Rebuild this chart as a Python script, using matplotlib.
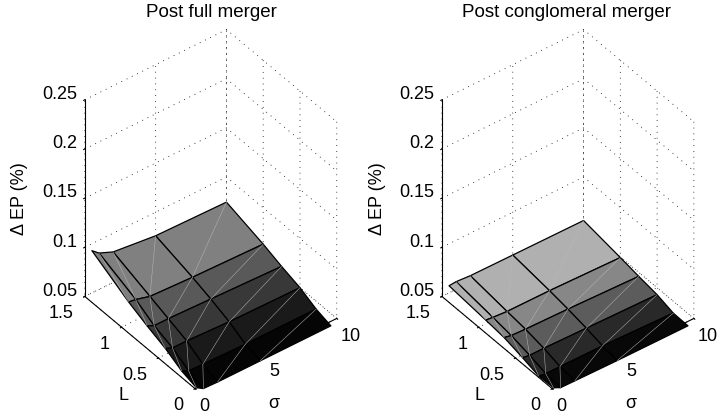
import matplotlib
matplotlib.use('Agg')
import matplotlib.pyplot as plt
import numpy as np

plt.rcParams['font.family'] = ['Liberation Sans', 'DejaVu Sans']
plt.rcParams['font.size'] = 13
plt.rcParams['grid.linestyle'] = (0, (1, 6))
plt.rcParams['grid.linewidth'] = 0.6
plt.rcParams['grid.color'] = 'black'

sigma = [0.5, 1, 2, 5, 10]
L = [0.08, 0.28, 0.5, 0.75, 1, 1.5]

# rows follow L, columns follow sigma
full_ep = [
    [0.0425, 0.0380, 0.0375, 0.0375, 0.0375],
    [0.0470, 0.0434, 0.0430, 0.0420, 0.0420],
    [0.0560, 0.0530, 0.0530, 0.0510, 0.0500],
    [0.0635, 0.0600, 0.0600, 0.0585, 0.0560],
    [0.0720, 0.0710, 0.0670, 0.0650, 0.0630],
    [0.0930, 0.0870, 0.0810, 0.0760, 0.0745],
]
cong_ep = [
    [0.0424, 0.0389, 0.0386, 0.0379, 0.0375],
    [0.0418, 0.0406, 0.0406, 0.0403, 0.0379],
    [0.0467, 0.0455, 0.0455, 0.0445, 0.0429],
    [0.0515, 0.0500, 0.0493, 0.0483, 0.0459],
    [0.0536, 0.0528, 0.0517, 0.0514, 0.0494],
    [0.0573, 0.0579, 0.0568, 0.0564, 0.0558],
]
full_grey = [0.02, 0.10, 0.22, 0.35, 0.50]
cong_grey = [0.03, 0.16, 0.36, 0.53, 0.69]

z_ticks = [0.05, 0.1, 0.15, 0.2, 0.25]
z_labels = ['0.05', '0.1', '0.15', '0.2', '0.25']
l_ticks = [0, 0.5, 1, 1.5]
l_labels = ['0', '0.5', '1', '1.5']
s_ticks = [0, 5, 10]
s_labels = ['0', '5', '10']

W, H = 720, 416


def px_text(fig, x, y, s, **kw):
    return fig.text(x / W, 1 - y / H, s, ha='center', va='center', **kw)


def draw_panel(fig, rect, title, title_x, values, greys):
    ax = fig.add_axes(rect, projection='3d', proj_type='ortho', computed_zorder=False)
    ax.view_init(elev=40.1, azim=232.4)
    ax.set_box_aspect((178, 180, 256), zoom=0.975)
    ax.patch.set_alpha(0)

    X, Y = np.meshgrid(sigma, L)
    Z = np.array(values)
    colors = np.empty((Z.shape[0] - 1, Z.shape[1] - 1, 3))
    for i, g in enumerate(greys):
        colors[i, :, :] = g
    ax.plot_surface(X, Y, Z, facecolors=colors, shade=False, rstride=1, cstride=1,
                    edgecolor='black', linewidth=0.9, zorder=2)
    # thin light seams across each face
    for i in range(Z.shape[0] - 1):
        for j in range(Z.shape[1] - 1):
            ax.plot([X[i, j], X[i + 1, j + 1]], [Y[i, j], Y[i + 1, j + 1]],
                    [Z[i, j], Z[i + 1, j + 1]], color='#b8b8b8', lw=0.35, zorder=3)

    ax.set_xlim(0, 10)
    ax.set_ylim(0, 1.5)
    ax.set_zlim(0.05, 0.25)
    ax.set_xticks(s_ticks, s_labels)
    ax.set_yticks(l_ticks, l_labels)
    ax.set_zticks(z_ticks, z_labels)
    ax.tick_params(axis='x', pad=-3.5, labelsize=13)
    ax.tick_params(axis='y', pad=3, labelsize=13)
    ax.tick_params(axis='z', pad=-4, labelsize=13)
    for t in ax.get_xticklabels():
        t.set_ha('left')
    for t in ax.get_yticklabels():
        t.set_ha('right')
        t.set_va('baseline')
    for t in ax.get_zticklabels():
        t.set_ha('right')
        t.set_va('baseline')
    for axis in (ax.xaxis, ax.yaxis, ax.zaxis):
        axis.set_pane_color((1, 1, 1, 0))
        axis.pane.set_edgecolor('none')
        axis.line.set_linewidth(0.8)
        axis._axinfo['tick']['inward_factor'] = 0.1
        axis._axinfo['tick']['outward_factor'] = 0.02
    ax.set_title(title, fontsize=13.5, x=title_x, y=1.114)
    return ax


fig = plt.figure(figsize=(7.2, 4.16), dpi=100)
draw_panel(fig, [0.036, -0.0144, 0.5, 1.0], 'Post full merger', 0.514, full_ep, full_grey)
draw_panel(fig, [0.532, -0.0144, 0.5, 1.0], 'Post conglomeral merger', 0.511, cong_ep, cong_grey)

for off in (0, 357):
    px_text(fig, 123 + off, 396, 'L', fontsize=13)
    px_text(fig, 274 + off, 403, 'σ', fontsize=13)
    px_text(fig, 20 + off, 199, 'Δ EP (%)', fontsize=13, rotation=90)

fig.savefig('out.png', dpi=100)
